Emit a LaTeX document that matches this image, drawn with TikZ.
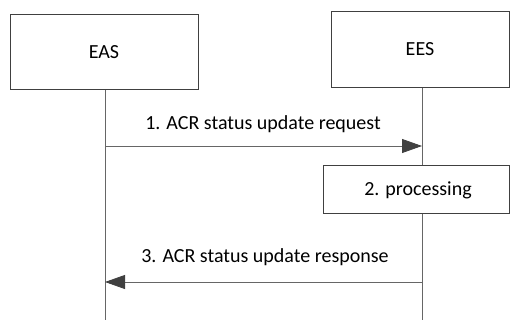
\documentclass[tikz,border=0pt]{standalone}
\usepackage{fontspec}
\setmainfont{Carlito}
\usetikzlibrary{arrows.meta}
\begin{document}
\begin{tikzpicture}[x=1pt,y=-1pt,
  box/.style={draw=black!75,line width=0.8pt,fill=white},
  life/.style={draw=black!60,line width=0.8pt},
  msg/.style={draw=black!60,line width=0.8pt,-{Triangle[length=20pt,width=14pt,fill=black!75,color=black!75]}},
  lbl/.style={font=\fontsize{20}{24}\selectfont,inner sep=0pt}]
\useasboundingbox (0,0) rectangle (510,320);
\coordinate (easTop) at (105,89);
\coordinate (easBot) at (105,320);
\coordinate (eesTop) at (422,87);
\coordinate (eesBot) at (422,320);
\draw[life] (easTop) -- (easBot);
\draw[life] (eesTop) -- (eesBot);
\draw[box] (10,14) rectangle (198,89);
\node[lbl] (eas) at (104,52) {EAS};
\draw[box] (331,11) rectangle (509.5,87);
\node[lbl] (ees) at (420,49) {EES};
\coordinate (m1s) at (105,146);
\coordinate (m1e) at (422,146);
\draw[msg] (m1s) -- (m1e);
\node[lbl] (l1) at (263,124) {1. ACR status update request};
\draw[box] (323,165) rectangle (509.5,213);
\node[lbl] (proc) at (418,190) {2. processing};
\coordinate (m3s) at (422,282);
\coordinate (m3e) at (105,282);
\draw[msg] (m3s) -- (m3e);
\node[lbl] (l3) at (265,257) {3. ACR status update response};
\end{tikzpicture}
\end{document}
